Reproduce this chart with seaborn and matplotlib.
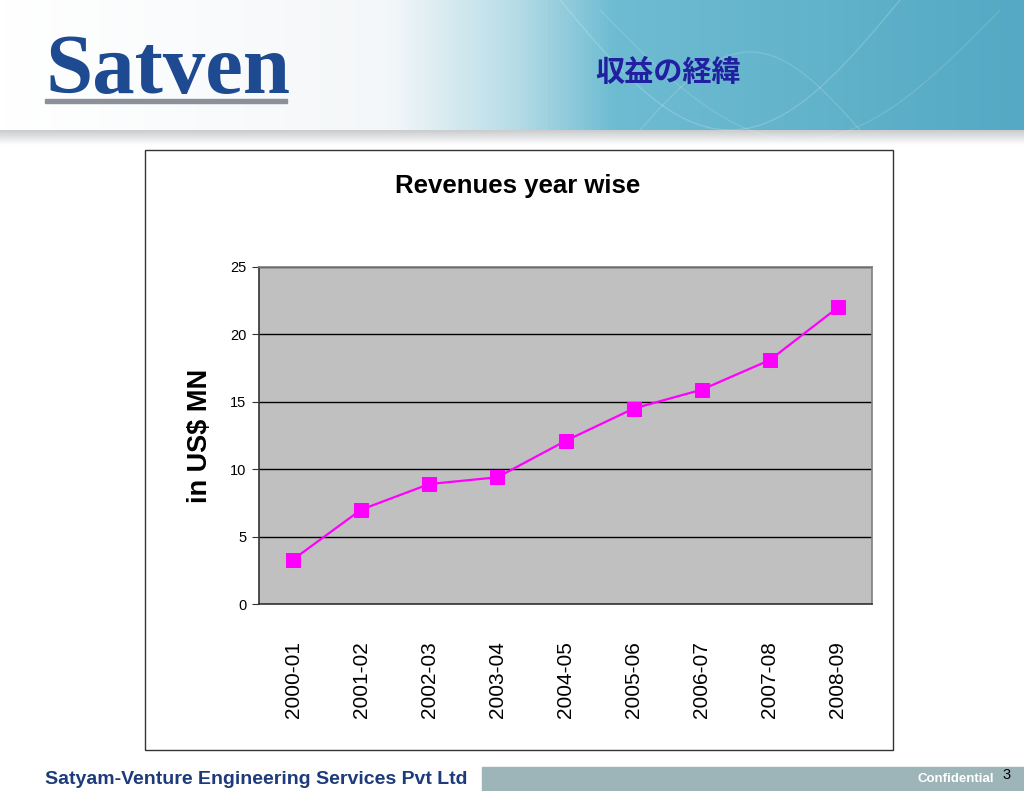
import numpy as np
import pandas as pd
import matplotlib
matplotlib.use("Agg")
import matplotlib.pyplot as plt
from matplotlib.patches import Rectangle
from matplotlib.colors import LinearSegmentedColormap
from matplotlib.ticker import FixedLocator
import seaborn as sns

# data
years = ["2000-01", "2001-02", "2002-03", "2003-04", "2004-05",
         "2005-06", "2006-07", "2007-08", "2008-09"]
revenues = [3.3, 7.0, 8.9, 9.4, 12.1, 14.5, 15.9, 18.1, 22.0]
y_ticks = [0, 5, 10, 15, 20, 25]

slide_title = "収益の経緯"
chart_title = "Revenues year wise"
y_label = "in US$ MN"
company = "Satyam-Venture Engineering Services Pvt Ltd"

df = pd.DataFrame({"year": years, "revenue": revenues})

sns.set_style("white")
plt.rcParams["font.family"] = ["Liberation Sans", "DejaVu Sans"]
plt.rcParams["text.color"] = "black"
plt.rcParams["xtick.color"] = "black"
plt.rcParams["ytick.color"] = "black"
plt.rcParams["axes.labelcolor"] = "black"

W, H = 1024, 791
fig = plt.figure(figsize=(W / 100, H / 100), dpi=100)

# slide background in pixel coordinates
bg = fig.add_axes([0, 0, 1, 1])
bg.axis("off")

# header gradient: white on the left, teal on the right
head_cmap = LinearSegmentedColormap.from_list(
    "head", [(0, "#ffffff"), (0.38, "#f4f7f9"), (0.50, "#b9dde7"),
             (0.60, "#6ebcd2"), (1.0, "#55a9c4")])
grad = np.linspace(0, 1, 512).reshape(1, -1)
bg.imshow(grad, cmap=head_cmap, extent=[0, W, 130, 0], aspect="auto", zorder=0)
# a few faint arcs across the header
t = np.linspace(0, 1, 200)
for x0, x1, y0, sgn, alpha in [(560, 900, 0, 1, 0.18), (600, 1000, 10, 1, 0.12),
                                (640, 860, 130, -0.6, 0.15)]:
    xs = x0 + (x1 - x0) * t
    ys = y0 + 130 * np.sin(np.pi * t) * sgn
    bg.plot(xs, ys, color="white", lw=1.0, alpha=alpha, zorder=1)
# shadow under header
shade = LinearSegmentedColormap.from_list("shade", ["#c9cbcd", "#ffffff"])
bg.imshow(np.linspace(0, 1, 64).reshape(-1, 1), cmap=shade,
          extent=[0, W, 145, 130], aspect="auto", zorder=0)
bg.set_xlim(0, W)
bg.set_ylim(H, 0)

bg.text(45, 93, "Satven", fontsize=61, fontweight="bold", family="Liberation Serif",
        color="#1e4a92", ha="left", va="baseline")
bg.add_patch(Rectangle((45, 99), 242, 3.5, color="#8b9099", zorder=2))
bg.text(668, 72, slide_title, fontsize=21, fontweight="bold", color="#2020a0",
        family=["Noto Sans CJK JP", "DejaVu Sans"], ha="center", va="center")

# chart frame
bg.add_patch(Rectangle((145, 150), 748, 600, facecolor="white",
                       edgecolor="#333333", lw=1.0, zorder=1))

# footer
bg.text(45, 779, company, fontsize=14, fontweight="bold", color="#1d3a7a",
        ha="left", va="center")
bg.add_patch(Rectangle((482, 767), W - 482, 24, color="#9db5b9", zorder=1))
bg.text(994, 779, "Confidential", fontsize=9.5, fontweight="bold", color="white",
        ha="right", va="center", zorder=2)
bg.text(1007, 775, "3", fontsize=10.5, color="black", ha="center", va="center", zorder=2)

# the chart itself
ax = fig.add_axes([259 / W, 1 - 604 / H, (872 - 259) / W, (604 - 267) / H])
sns.lineplot(data=df, x="year", y="revenue", ax=ax, color="#ff00ff",
             marker="s", markersize=9.5, markeredgecolor="#ff00ff",
             linewidth=1.6, sort=False)
ax.set_facecolor("#c0c0c0")
ax.set_xlim(-0.5, len(years) - 0.5)
ax.set_ylim(0, 25)
ax.set_yticks(y_ticks)
ax.yaxis.grid(True, color="black", lw=1.0)
ax.set_axisbelow(True)
for s in ax.spines.values():
    s.set_color("#808080")
    s.set_linewidth(1.2)
ax.spines["left"].set_color("#333333")
ax.spines["bottom"].set_color("#333333")

ax.set_xticks(range(len(years)))
ax.set_xticklabels(years, rotation=90, fontsize=15)
ax.xaxis.set_minor_locator(FixedLocator(np.arange(-0.5, len(years), 1.0)))
ax.tick_params(axis="x", which="major", length=0, pad=27)
ax.tick_params(axis="x", which="minor", length=6, color="#333333", direction="out")
ax.tick_params(axis="y", length=5, color="#333333", direction="out", labelsize=10.5, pad=4)
ax.tick_params(bottom=True, left=True)

ax.set_xlabel("")
ax.set_ylabel(y_label, fontsize=19.5, fontweight="bold", labelpad=12)

fig.text(518 / W, 1 - 186 / H, chart_title, fontsize=18.5, fontweight="bold",
         ha="center", va="center")

fig.savefig("out.png", dpi=100)
